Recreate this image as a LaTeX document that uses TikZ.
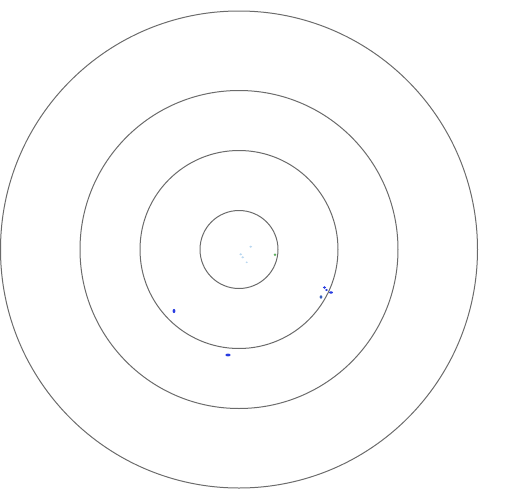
\documentclass[tikz,border=0pt]{standalone}
\usepackage{tikz}
\definecolor{speckblue}{RGB}{40,60,225}
\definecolor{faintblue}{RGB}{185,215,240}
\definecolor{speckgreen}{RGB}{95,175,95}
\begin{document}
\begin{tikzpicture}[x=1pt, y=-1pt,
    ring/.style={draw=black!58, line width=1pt},
    speck/.style={fill=speckblue},
    faint/.style={fill=faintblue}]
    \useasboundingbox (0,0) rectangle (515,496);
    % Tâm chung của các vòng tròn
    \coordinate (O) at (239,249.5);

    % Bốn vòng tròn đồng tâm
    \foreach \r in {39,99,159,238.5}
        \draw[ring] (O) circle[radius=\r pt];

    % Các chấm mờ gần tâm
    \fill[faint] (250.7,246.7) ellipse[x radius=1.4pt, y radius=1.1pt];
    \fill[faint] (240.7,254.3) ellipse[x radius=1.4pt, y radius=1.1pt];
    \fill[faint] (242.7,257.3) ellipse[x radius=1.4pt, y radius=1.1pt];
    \fill[faint] (246.7,262.3) ellipse[x radius=1.1pt, y radius=0.9pt];
    \fill[speckgreen] (275,254.7) circle[radius=1.3pt];

    % Các chấm xanh quanh vòng thứ ba
    \fill[speck] (174,311) ellipse[x radius=1.4pt, y radius=2.1pt];
    \fill[speck] (228,355) ellipse[x radius=2.6pt, y radius=1.4pt];
    \fill[speck] (324.5,287.5) ellipse[x radius=1.6pt, y radius=1.3pt];
    \fill[speck] (326.5,290) ellipse[x radius=1.3pt, y radius=1.2pt];
    \fill[speck] (331,292.5) ellipse[x radius=2pt, y radius=1.2pt];
    \fill[speckblue!70!speckgreen] (321,297) ellipse[x radius=1.6pt, y radius=1.9pt];
\end{tikzpicture}
\end{document}
